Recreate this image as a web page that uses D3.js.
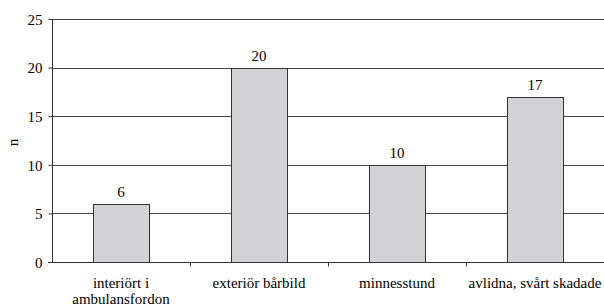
<!DOCTYPE html>
<html>
<head>
<meta charset="utf-8">
<script src="https://d3js.org/d3.v7.min.js"></script>
<style>
  body { margin: 0; background: #fff; }
  svg text { font-family: 'Liberation Serif', 'Times New Roman', Times, serif; fill: #000; font-size: 15px; }
</style>
</head>
<body>
<svg id="chart" width="604" height="305"></svg>
<script>
  var categories = ["interiört i\nambulansfordon", "exteriör bårbild", "minnesstund", "avlidna, svårt skadade"];
  var values = [6, 20, 10, 17];
  var yTicks = [0, 5, 10, 15, 20, 25];

  var svg = d3.select("#chart"),
      margin = { top: 19, right: 0, bottom: 43, left: 52 },
      width = 604 - margin.left - margin.right,
      height = 305 - margin.top - margin.bottom;

  var x = d3.scaleBand().domain(categories).range([0, width]).paddingInner(0).paddingOuter(0);
  var y = d3.scaleLinear().domain([0, 25]).range([height, 0]);

  var g = svg.append("g")
    .attr("transform", "translate(" + margin.left + "," + margin.top + ")");

  // gridlines
  g.selectAll(".grid")
    .data(yTicks.filter(function (d) { return d > 0; }))
    .enter().append("line")
      .attr("x1", 0).attr("x2", width)
      .attr("y1", function (d) { return Math.round(y(d)) + 0.5; })
      .attr("y2", function (d) { return Math.round(y(d)) + 0.5; })
      .attr("stroke", "#444").attr("stroke-width", 1);

  var bw = 56;
  g.selectAll(".bar")
    .data(values)
    .enter().append("rect")
      .attr("x", function (d, i) { return Math.round(x(categories[i]) + x.bandwidth() / 2 - bw / 2) + 0.5; })
      .attr("y", function (d) { return Math.round(y(d)) + 0.5; })
      .attr("width", bw)
      .attr("height", function (d) { return height - Math.round(y(d)); })
      .attr("fill", "#d3d3d5")
      .attr("stroke", "#333")
      .attr("stroke-width", 1);

  g.selectAll(".val")
    .data(values)
    .enter().append("text")
      .attr("x", function (d, i) { return x(categories[i]) + x.bandwidth() / 2; })
      .attr("y", function (d) { return y(d) - 7; })
      .attr("text-anchor", "middle")
      .text(function (d) { return d; });

  // y axis
  var yAxis = g.append("g")
    .attr("transform", "translate(0.5,0)")
    .call(d3.axisLeft(y).tickValues(yTicks).tickSize(4).tickPadding(6));
  yAxis.select(".domain").attr("stroke", "#333").attr("d", "M0," + height + "V0");
  yAxis.selectAll(".tick line").attr("stroke", "#333");
  yAxis.selectAll("text").attr("dy", "0.35em");

  // x axis
  var xAxis = g.append("g")
    .attr("transform", "translate(0," + (height + 0.5) + ")");
  xAxis.append("line")
    .attr("x1", -4).attr("x2", width)
    .attr("stroke", "#333");
  xAxis.selectAll(".xt")
    .data(categories.slice(1))
    .enter().append("line")
      .attr("x1", function (d) { return Math.round(x(d)) + 0.5; })
      .attr("x2", function (d) { return Math.round(x(d)) + 0.5; })
      .attr("y1", 0).attr("y2", 4)
      .attr("stroke", "#333");
  var labels = xAxis.selectAll(".xl")
    .data(categories)
    .enter().append("text")
      .attr("text-anchor", "middle")
      .attr("transform", function (d) { return "translate(" + (x(d) + x.bandwidth() / 2) + ",25)"; });
  labels.selectAll("tspan")
    .data(function (d) { return d.split("\n"); })
    .enter().append("tspan")
      .attr("x", 0)
      .attr("dy", function (d, i) { return i === 0 ? 0 : 16; })
      .text(function (d) { return d; });

  svg.append("text")
    .attr("transform", "translate(18," + (margin.top + height / 2 + 2) + ") rotate(-90)")
    .attr("text-anchor", "middle")
    .text("n");
</script>
</body>
</html>
